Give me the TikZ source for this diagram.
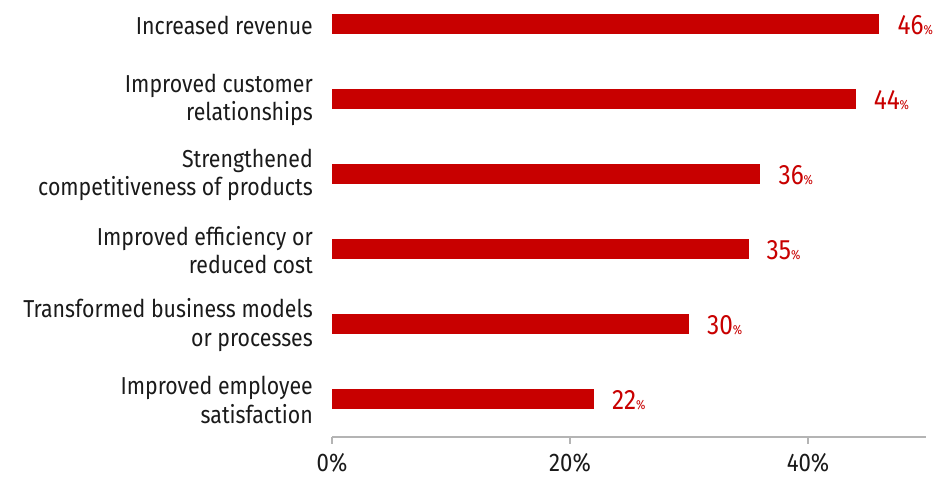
\documentclass[tikz,border=0pt]{standalone}
\usepackage{fontspec}
\setmainfont{Fira Sans}[FakeStretch=0.87]
\usetikzlibrary{positioning}
\definecolor{barred}{HTML}{C80000}
\definecolor{axisgray}{HTML}{B4B4B4}
\definecolor{labelgray}{HTML}{1A1A1A}
\tikzstyle{bar} = [fill=barred, draw=none]
\tikzstyle{category} = [anchor=east, 
align=right, 
inner sep=0pt, 
text=labelgray, 
font=\fontsize{24.5}{28.5}\selectfont]
\tikzstyle{value} = [anchor=west, 
inner sep=0pt, 
text=barred, 
font=\fontsize{28}{28}\selectfont]
\tikzstyle{ticklabel} = [inner sep=0pt, 
text=labelgray, 
font=\fontsize{25.5}{25.5}\selectfont]
\tikzstyle{axis} = [draw=axisgray, line width=1.6pt]

\begin{document}
\begin{tikzpicture}[x=1pt, y=-1pt]
\useasboundingbox (0,0) rectangle (938,478);

% bars with category and value labels
\foreach \val/\txt [count=\i] in {46/{Increased revenue},
  44/{Improved customer\\relationships},
  36/{Strengthened\\competitiveness of products},
  35/{Improved efficiency or\\reduced cost},
  30/{Transformed business models\\or processes},
  22/{Improved employee\\satisfaction}} {
  \pgfmathsetmacro\yc{24+75*(\i-1)}
  \pgfmathsetmacro\xe{332+11.9*\val}
  \fill[bar] (332,\yc-10) rectangle (\xe,\yc+10);
  \node (cat\i) [category] at (313,\yc+1) {\txt};
  \node (val\i) [value] at (\xe+18,\yc+1) {\val{\fontsize{13}{13}\selectfont\%}};
}

% axis
\coordinate (origin) at (332,437);
\coordinate (axisend) at (926,437);
\draw [axis] (origin) -- (axisend);
\foreach \t [count=\j] in {0,20,40} {
  \draw [axis] (332+11.9*\t,437) -- (332+11.9*\t,444);
  \node (tick\j) [ticklabel] at (332+11.9*\t,463) {\t\%};
}

\end{tikzpicture}
\end{document}
